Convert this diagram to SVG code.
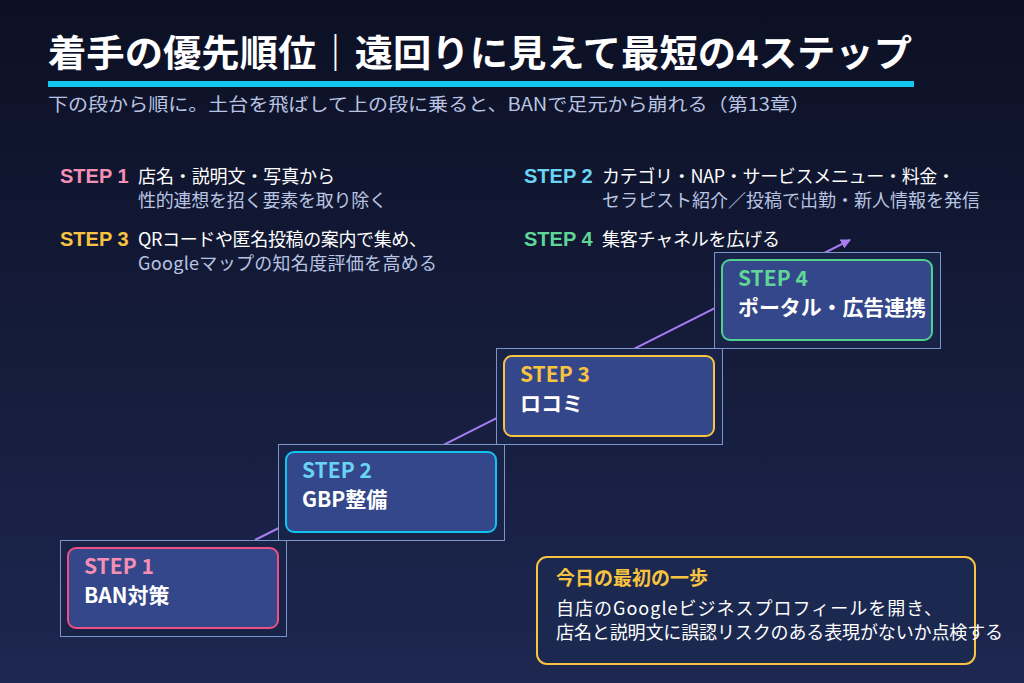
<svg xmlns="http://www.w3.org/2000/svg" width="1024" height="683" viewBox="0 0 1024 683">
<defs>
<linearGradient id="bg" x1="0" y1="0" x2="0" y2="1"><stop offset="0" stop-color="#0c1024"/><stop offset="1" stop-color="#1d2750"/></linearGradient>
<marker id="ah" viewBox="0 0 10 10" refX="9" refY="5" markerWidth="5" markerHeight="5" orient="auto"><path d="M0,0 L10,5 L0,10 z" fill="#a67cf0"/></marker>
<style>
text{font-family:"Noto Sans CJK JP","Noto Sans",sans-serif}
.t{font-weight:700;fill:#fff;font-size:37px}
.sub{fill:#b9c4e2;font-size:18px}
.lab{font-weight:700;font-size:20px;font-family:"Liberation Sans","Noto Sans CJK JP",sans-serif}
.d1{fill:#fff;font-size:18px}
.d2{fill:#b9c4e2;font-size:18px}
.outer{fill:#182347;stroke:#7d94c8;stroke-width:1}
.inner{fill:#34478a;stroke-width:2}
.st{font-weight:700;font-size:21px}
.nm{font-weight:700;font-size:21px;fill:#fff}
</style>
</defs>
<rect width="1024" height="683" fill="url(#bg)"/>
<text x="48" y="67" class="t" textLength="864" lengthAdjust="spacingAndGlyphs">着手の優先順位｜遠回りに見えて最短の4ステップ</text>
<rect x="48" y="81" width="866" height="6" fill="#14c8ef"/>
<text x="48" y="111" class="sub" textLength="762" lengthAdjust="spacingAndGlyphs">下の段から順に。土台を飛ばして上の段に乗ると、BANで足元から崩れる（第13章）</text>

<text x="60" y="183" class="lab" fill="#f58fb4">STEP 1</text>
<text x="138" y="183" class="d1" textLength="197">店名・説明文・写真から</text>
<text x="138" y="207" class="d2" textLength="249">性的連想を招く要素を取り除く</text>
<text x="60" y="246" class="lab" fill="#f7c340">STEP 3</text>
<text x="138" y="246" class="d1" textLength="289">QRコードや匿名投稿の案内で集め、</text>
<text x="138" y="270" class="d2" textLength="299">Googleマップの知名度評価を高める</text>
<text x="524" y="183" class="lab" fill="#6ad4f5">STEP 2</text>
<text x="602" y="183" class="d1" textLength="353">カテゴリ・NAP・サービスメニュー・料金・</text>
<text x="602" y="207" class="d2" textLength="378">セラピスト紹介／投稿で出勤・新人情報を発信</text>
<text x="524" y="246" class="lab" fill="#5fd698">STEP 4</text>
<text x="602" y="246" class="d1" textLength="178">集客チャネルを広げる</text>

<g id="connectors">
<line x1="255" y1="540" x2="850" y2="240" stroke="#a67cf0" stroke-width="2" marker-end="url(#ah)"/>
</g>

<g id="step1">
<rect class="outer" x="60.5" y="540.5" width="226" height="96"/>
<rect class="inner" x="68" y="548" width="210" height="80" rx="8" stroke="#ee4f86"/>
<text x="84" y="574" class="st" fill="#f58fb4">STEP 1</text>
<text x="84" y="603" class="nm">BAN対策</text>
</g>
<g id="step2">
<rect class="outer" x="278.5" y="444.5" width="226" height="96"/>
<rect class="inner" x="286" y="452" width="210" height="80" rx="8" stroke="#12c3ef"/>
<text x="302" y="478" class="st" fill="#6ad4f5">STEP 2</text>
<text x="302" y="507" class="nm">GBP整備</text>
</g>
<g id="step3">
<rect class="outer" x="496.5" y="348.5" width="226" height="96"/>
<rect class="inner" x="504" y="356" width="210" height="80" rx="8" stroke="#f7c340"/>
<text x="520" y="382" class="st" fill="#f7c340">STEP 3</text>
<text x="520" y="411" class="nm">ロコミ</text>
</g>
<g id="step4">
<rect class="outer" x="714.5" y="252.5" width="226" height="96"/>
<rect class="inner" x="722" y="260" width="210" height="80" rx="8" stroke="#4fd08f"/>
<text x="738" y="286" class="st" fill="#5fd698">STEP 4</text>
<text x="738" y="315" class="nm" textLength="188" lengthAdjust="spacingAndGlyphs">ポータル・広告連携</text>
</g>
<g id="firststep">
<rect x="537" y="557" width="438" height="107" rx="10" fill="#1b2950" stroke="#f7c340" stroke-width="2"/>
<text x="556" y="585" font-weight="700" font-size="19" fill="#f7c340">今日の最初の一歩</text>
<text x="556" y="615" class="d1" font-size="17" textLength="386">自店のGoogleビジネスプロフィールを開き、</text>
<text x="556" y="639" class="d1" font-size="17" textLength="447">店名と説明文に誤認リスクのある表現がないか点検する</text>
</g>
</svg>
